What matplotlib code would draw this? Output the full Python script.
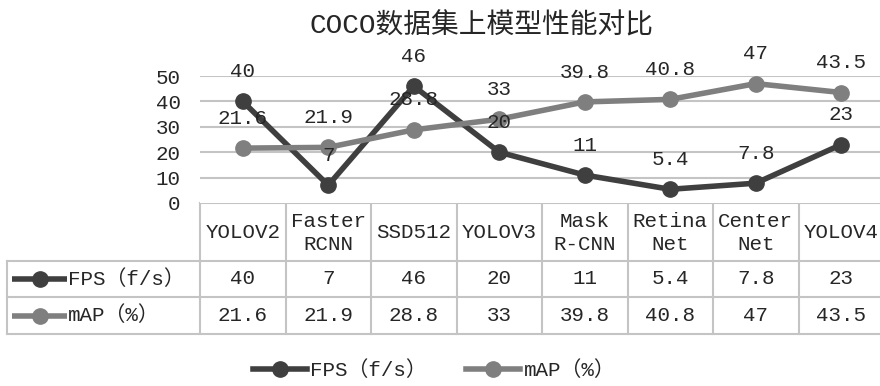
import matplotlib
matplotlib.use('Agg')
import matplotlib.pyplot as plt

plt.rcParams['font.family'] = ['Liberation Mono', 'Noto Sans CJK SC', 'DejaVu Sans']

title = 'COCO数据集上模型性能对比'
models = ['YOLOV2', 'Faster\nRCNN', 'SSD512', 'YOLOV3', 'Mask\nR-CNN', 'Retina\nNet', 'Center\nNet', 'YOLOV4']
fps = [40, 7, 46, 20, 11, 5.4, 7.8, 23]
mAP = [21.6, 21.9, 28.8, 33, 39.8, 40.8, 47, 43.5]
series_names = ['FPS（f/s）', 'mAP（%）']
colors = ['#3f3f3f', '#7f7f7f']
yticks = [0, 10, 20, 30, 40, 50]

text_color = '#262626'
grid_color = '#c4c4c4'
fs = 15
lw, ms = 4.0, 11

W, H = 880, 386
fig = plt.figure(figsize=(W / 100, H / 100), dpi=100)

# plot area (pixel layout: 200..884 wide, y=0 at 203, y=50 at 76)
x0, colw = 200, 85.5
n = len(models)
ax = fig.add_axes([x0 / W, (H - 203) / H, colw * n / W, 127 / H])
ax.set_xlim(-0.5, n - 0.5)
ax.set_ylim(0, 50)
for s in ax.spines.values():
    s.set_visible(False)
ax.set_xticks([])
ax.set_yticks(yticks)
ax.set_yticklabels([str(t) for t in yticks], fontsize=fs, color=text_color)
ax.tick_params(axis='y', length=0, pad=14)
for t in yticks[1:]:
    ax.axhline(t, color=grid_color, lw=1.5, zorder=0)

xs = list(range(n))
for vals, c in zip([fps, mAP], colors):
    ax.plot(xs, vals, color=c, lw=lw, marker='o', ms=ms, clip_on=False, zorder=3)
for vals, c in zip([fps, mAP], colors):
    for x, v in zip(xs, vals):
        ax.annotate('{:g}'.format(v), (x, v), xytext=(0, 21.5), textcoords='offset points',
                    ha='center', va='center', fontsize=fs, color=text_color,
                    annotation_clip=False, zorder=5)

fig.text(481 / W, 1 - 26 / H, title, ha='center', va='center', fontsize=20, color=text_color)

# data table under the plot, drawn in pixel coordinates
tab = fig.add_axes([0, 0, 1, 1], zorder=-1)
tab.set_xlim(0, W)
tab.set_ylim(H, 0)
tab.axis('off')
tab.patch.set_alpha(0)

top, hdr, r1, r2 = 203, 261, 297, 334
left = 7
right = x0 + colw * n
lk = dict(color=grid_color, lw=1.5, clip_on=False)
tab.plot([x0, right], [top, top], **lk)
for y in (hdr, r1, r2):
    tab.plot([left, right], [y, y], **lk)
tab.plot([left, left], [hdr, r2], **lk)
for i in range(n + 1):
    xc = x0 + colw * i
    tab.plot([xc, xc], [top, r2], **lk)

for i, m in enumerate(models):
    cx = x0 + colw * (i + 0.5)
    tab.text(cx, (top + hdr) / 2 + 1, m, ha='center', va='center', fontsize=fs,
             color=text_color, linespacing=1.25)

for (ya, yb), name, vals, c in zip([(hdr, r1), (r1, r2)], series_names, [fps, mAP], colors):
    cy = (ya + yb) / 2
    tab.plot([12, 67], [cy, cy], color=c, lw=lw, solid_capstyle='butt')
    tab.plot([40], [cy], 'o', color=c, ms=ms)
    tab.text(68, cy, name, ha='left', va='center', fontsize=fs, color=text_color)
    for i, v in enumerate(vals):
        tab.text(x0 + colw * (i + 0.5), cy, '{:g}'.format(v), ha='center', va='center',
                 fontsize=fs, color=text_color)

handles = [plt.Line2D([], [], color=c, lw=lw, marker='o', ms=ms) for c in colors]
fig.legend(handles, series_names, loc='center', bbox_to_anchor=(434 / W, 1 - 370 / H),
           ncol=2, frameon=False, fontsize=fs, handlelength=2.6, handletextpad=0.15,
           columnspacing=1.9, labelcolor=text_color)

fig.savefig('out.png', dpi=100)
